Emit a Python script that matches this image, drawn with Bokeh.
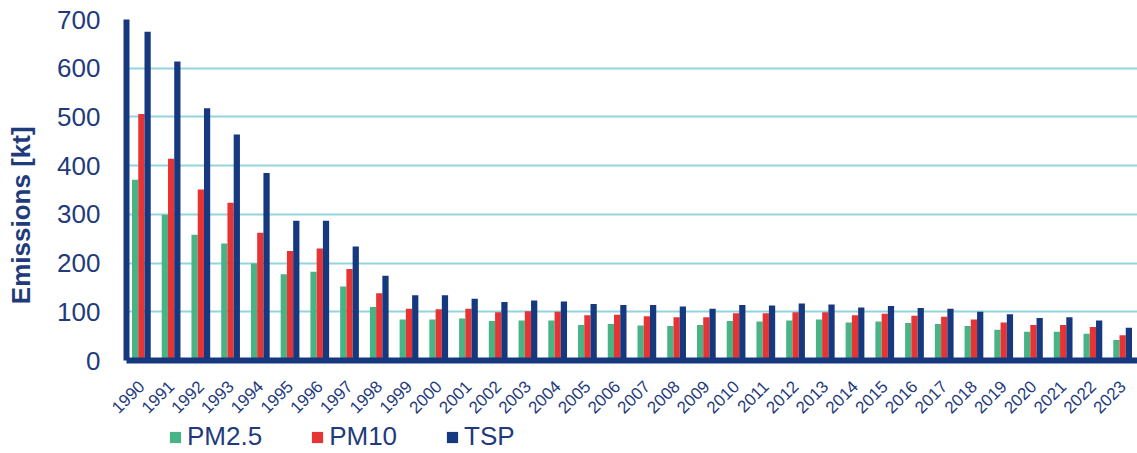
import math
from bokeh.plotting import figure
from bokeh.layouts import column
from bokeh.models import ColumnDataSource, FactorRange, Range1d, Legend, LegendItem, FixedTicker
from bokeh.transform import dodge
from bokeh.embed import file_html
from bokeh.resources import INLINE

years = ["1990", "1991", "1992", "1993", "1994", "1995", "1996", "1997", "1998", "1999",
         "2000", "2001", "2002", "2003", "2004", "2005", "2006", "2007", "2008", "2009",
         "2010", "2011", "2012", "2013", "2014", "2015", "2016", "2017", "2018", "2019",
         "2020", "2021", "2022", "2023"]
pm25 = [371, 299, 258, 240, 199, 177, 182, 152, 110, 84, 84, 86, 81, 82, 82, 73, 75, 72, 71, 73,
        81, 80, 82, 84, 78, 80, 77, 75, 71, 63, 59, 59, 55, 42]
pm10 = [506, 414, 351, 324, 262, 225, 230, 188, 138, 106, 105, 106, 99, 101, 100, 93, 94, 91, 89, 89,
        97, 97, 99, 99, 93, 96, 92, 90, 84, 78, 73, 73, 69, 52]
tsp = [675, 614, 518, 464, 385, 287, 287, 234, 174, 134, 134, 127, 120, 123, 121, 116, 114, 114, 111, 106,
       114, 113, 117, 115, 109, 112, 108, 106, 100, 95, 87, 89, 82, 67]
y_ticks = [0, 100, 200, 300, 400, 500, 600, 700]
series_names = ["PM2.5", "PM10", "TSP"]

GREEN = "#48B485"
RED = "#E63434"
BLUE = "#16387F"
TEXT = "#1F3B7C"
GRID = "#93D4DF"

src = ColumnDataSource(dict(year=years, pm25=pm25, pm10=pm10, tsp=tsp))

p = figure(width=1137, height=421, x_range=FactorRange(*years, range_padding=0),
           y_range=Range1d(0, 700), output_backend="svg", toolbar_location=None,
           min_border_left=126, min_border_right=0, min_border_top=19, min_border_bottom=61)
p.outline_line_color = None
p.background_fill_color = "white"

bw = 0.21
p.vbar(x=dodge("year", -bw, range=p.x_range), top="pm25", width=bw, source=src,
       fill_color=GREEN, line_color=None)
p.vbar(x=dodge("year", 0.0, range=p.x_range), top="pm10", width=bw, source=src,
       fill_color=RED, line_color=None)
p.vbar(x=dodge("year", bw, range=p.x_range), top="tsp", width=bw, source=src,
       fill_color=BLUE, line_color=None)

p.xgrid.grid_line_color = None
p.ygrid.grid_line_color = GRID
p.ygrid.grid_line_width = 2
p.yaxis.ticker = FixedTicker(ticks=y_ticks)

for ax in (p.xaxis[0], p.yaxis[0]):
    ax.axis_line_color = BLUE
    ax.axis_line_width = 6
    ax.major_tick_line_color = None
    ax.minor_tick_line_color = None
    ax.major_label_text_color = TEXT
    ax.major_label_text_font = "Liberation Sans"

p.yaxis.major_label_text_font_size = "26px"
p.yaxis.major_label_standoff = 20
p.xaxis.major_label_text_font_size = "17px"
p.xaxis.major_label_orientation = math.pi / 4
p.xaxis.major_label_standoff = 17

# trailing no-break spaces shift the centred label downwards like in the original
p.yaxis.axis_label = "Emissions [kt]" + "\u00a0" * 7
p.yaxis.axis_label_standoff = 18
p.yaxis.axis_label_text_font = "Liberation Sans"
p.yaxis.axis_label_text_font_style = "bold"
p.yaxis.axis_label_text_font_size = "26px"
p.yaxis.axis_label_text_color = TEXT

# legend strip below the chart
lf = figure(width=1137, height=32, x_range=Range1d(0, 1), y_range=Range1d(0, 1),
            output_backend="svg", toolbar_location=None, x_axis_location=None,
            y_axis_location=None, min_border=0)
lf.outline_line_color = None
lf.xgrid.visible = False
lf.ygrid.visible = False
colors = [GREEN, RED, BLUE]
items = []
for name, c in zip(series_names, colors):
    r = lf.vbar(x=[5], top=[5], bottom=[4], width=0.1, fill_color=c, line_color=None)
    items.append(LegendItem(label=name, renderers=[r]))
legend = Legend(items=items, orientation="horizontal", location=(42, 1), padding=0, margin=0,
                spacing=48, glyph_width=14, glyph_height=14, label_standoff=5,
                label_text_font="Liberation Sans", label_text_font_size="26px",
                label_text_color=TEXT, background_fill_alpha=0, border_line_color=None)
lf.add_layout(legend)

layout = column(p, lf, spacing=0)
open("out.html", "w").write(file_html(layout, INLINE))
